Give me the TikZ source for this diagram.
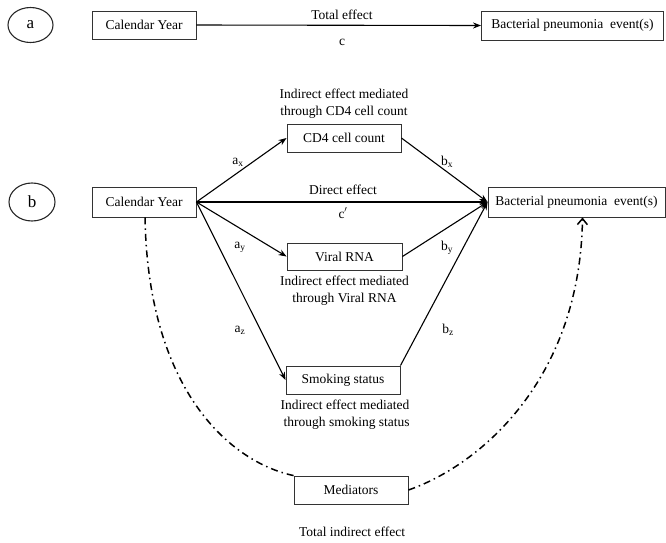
\documentclass[tikz,border=0pt]{standalone}
\usepackage{fontspec}
\setmainfont{Liberation Serif}
\usetikzlibrary{arrows.meta,shapes.geometric}

\begin{document}
\begin{tikzpicture}[
  yscale = -1,
  font = \fontsize{13.5pt}{17pt}\selectfont,
  pbox/.style = {draw=black!80,line width=0.9pt,inner sep=0pt,minimum height=28pt},
  pcirc/.style = {draw=black!85,line width=1.1pt,ellipse,minimum width=45pt,minimum height=35pt,inner sep=0pt,font=\fontsize{17pt}{17pt}\selectfont},
  parrow/.style = {black,line width=1.1pt,-{Stealth[length=8pt,width=6pt]}},
  pdash/.style = {black,line width=1.5pt,dash pattern=on 7pt off 4pt on 1.5pt off 4pt},
  ptext/.style = {align=center,inner sep=0pt},
]
  \useasboundingbox (0pt,0pt) rectangle (666pt,542pt);
  % part a
  \node (circa) at (30.5pt,25pt)[pcirc]{a};
  \node (cala) at (144pt,25pt)[pbox,minimum width=104pt]{Calendar Year};
  \node (bpa) at (572.5pt,25.5pt)[pbox,minimum width=182pt,minimum height=29pt]{Bacterial pneumonia\ \ event(s)};
  \draw[parrow] (cala.east) -- (bpa.west);
  \node (toteff) at (342pt,15pt)[ptext]{Total effect};
  \node (labc) at (342pt,42pt)[ptext]{c};
  % part b
  \node (circb) at (32pt,202pt)[pcirc,minimum width=46pt,minimum height=38pt]{b};
  \node (calb) at (144pt,202pt)[pbox,minimum width=104pt,minimum height=30pt]{Calendar Year};
  \node (bpb) at (576.5pt,202pt)[pbox,minimum width=177pt,minimum height=30pt]{Bacterial pneumonia\ \ event(s)};
  \node (cd4) at (344pt,138pt)[pbox,minimum width=114pt]{CD4 cell count};
  \node (rna) at (344.5pt,256.5pt)[pbox,minimum width=115pt,minimum height=27pt]{Viral RNA};
  \node (smk) at (343pt,380pt)[pbox,minimum width=114pt]{Smoking status};
  \node (med) at (351pt,490pt)[pbox,minimum width=114pt]{Mediators};
  \node (txcd4) at (344pt,103.5pt)[ptext]{Indirect effect mediated\\through CD4 cell count};
  \node (txrna) at (344.5pt,290.5pt)[ptext]{Indirect effect mediated\\through Viral RNA};
  \node (txsmk) at (345pt,414.5pt)[ptext]{Indirect effect mediated\\\ through smoking status};
  \node (direff) at (343pt,190pt)[ptext]{Direct effect};
  \node (labcp) at (343pt,213pt)[ptext]{c$^{\prime}$};
  \node (totind) at (352pt,532pt)[ptext]{Total indirect effect};
  \node (labax) at (238pt,162pt)[ptext]{a\textsubscript{x}};
  \node (labay) at (240pt,247pt)[ptext]{a\textsubscript{y}};
  \node (labaz) at (240pt,330pt)[ptext]{a\textsubscript{z}};
  \node (labbx) at (447pt,162pt)[ptext]{b\textsubscript{x}};
  \node (labby) at (447pt,248pt)[ptext]{b\textsubscript{y}};
  \node (labbz) at (448pt,330pt)[ptext]{b\textsubscript{z}};
  \draw[parrow] (calb.east) -- (cd4.west);
  \draw[parrow] (calb.east) -- (rna.west);
  \draw[parrow] (calb.east) -- (smk.west);
  \draw[parrow] (calb.east) -- (bpb.west);
  \draw[parrow] (cd4.east) -- (bpb.west);
  \draw[parrow] (rna.east) -- (bpb.west);
  \draw[parrow] (smk.north east) -- (bpb.west);
  \draw[pdash] ([xshift=1pt]calb.south) .. controls (148pt,390pt) and (230pt,462pt) .. (med.north west);
  \draw[pdash,-{Straight Barb[length=6pt,width=10pt]}] (med.east) .. controls (480pt,465pt) and (580pt,380pt) .. ([xshift=6pt]bpb.south);
\end{tikzpicture}
\end{document}
